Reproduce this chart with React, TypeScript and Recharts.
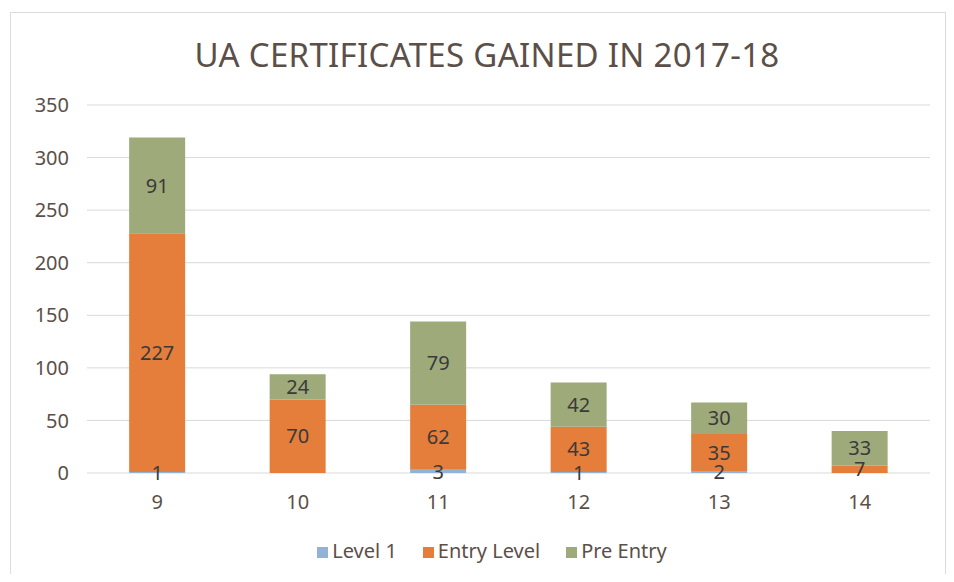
import React from 'react';
import { Bar, BarChart, CartesianGrid, LabelList, Legend, XAxis, YAxis } from 'recharts';

const grades = ['9', '10', '11', '12', '13', '14'];
const level1 = [1, 0, 3, 1, 2, 0];
const entryLevel = [227, 70, 62, 43, 35, 7];
const preEntry = [91, 24, 79, 42, 30, 33];
const yTicks = [0, 50, 100, 150, 200, 250, 300, 350];
const seriesOrder = ['Level 1', 'Entry Level', 'Pre Entry'];

const data = grades.map((g, i) => ({
  grade: g,
  'Level 1': level1[i],
  'Entry Level': entryLevel[i],
  'Pre Entry': preEntry[i],
}));

const font = '"Noto Sans", sans-serif';
const labelStyle = { fill: '#3a3a3a', fontSize: 20, fontFamily: font };
const hideZero = (v: any) => (v ? v : '');

function App() {
  return (
    <div style={{ position: 'relative', width: 938, height: 566, fontFamily: font }}>
      <div style={{
        position: 'absolute', left: 2, top: 4, width: 936, height: 564,
        border: '1px solid #dcdcdc', boxSizing: 'border-box',
      }} />
      <div style={{
        position: 'absolute', left: 0, top: 24, width: 958, textAlign: 'center',
        fontSize: 33, color: '#5b4f48', letterSpacing: 0.3,
      }}>
        UA CERTIFICATES GAINED IN 2017-18
      </div>
      <BarChart width={938} height={566} data={data} barCategoryGap="30%"
        margin={{ top: 97, right: 16, bottom: 38, left: 0 }}>
        <CartesianGrid vertical={false} stroke="#d9d9d9" />
        <XAxis dataKey="grade" axisLine={false} tickLine={false} height={36}
          tick={{ fill: '#5b4f48', fontSize: 20, fontFamily: font }} tickMargin={16} />
        <YAxis domain={[0, 350]} ticks={yTicks} axisLine={false} tickLine={false} width={79}
          tick={{ fill: '#5b4f48', fontSize: 20, fontFamily: font }} tickMargin={12} />
        <Legend iconType="square" iconSize={11}
          itemSorter={(item: any) => seriesOrder.indexOf(item.dataKey)}
          wrapperStyle={{ fontSize: 20, fontFamily: font, color: '#5b4f48', bottom: 10, paddingLeft: 36 }}
          formatter={(v: any) => <span style={{ color: '#5b4f48', marginRight: 16 }}>{v}</span>} />
        <Bar dataKey="Level 1" stackId="a" fill="#91b3d7" isAnimationActive={false}>
          <LabelList dataKey="Level 1" position="center" style={labelStyle} formatter={hideZero} />
        </Bar>
        <Bar dataKey="Entry Level" stackId="a" fill="#e47e3a" isAnimationActive={false}>
          <LabelList dataKey="Entry Level" position="center" style={labelStyle} />
        </Bar>
        <Bar dataKey="Pre Entry" stackId="a" fill="#9eaa7a" isAnimationActive={false}>
          <LabelList dataKey="Pre Entry" position="center" style={labelStyle} />
        </Bar>
      </BarChart>
    </div>
  );
}

export default App;
